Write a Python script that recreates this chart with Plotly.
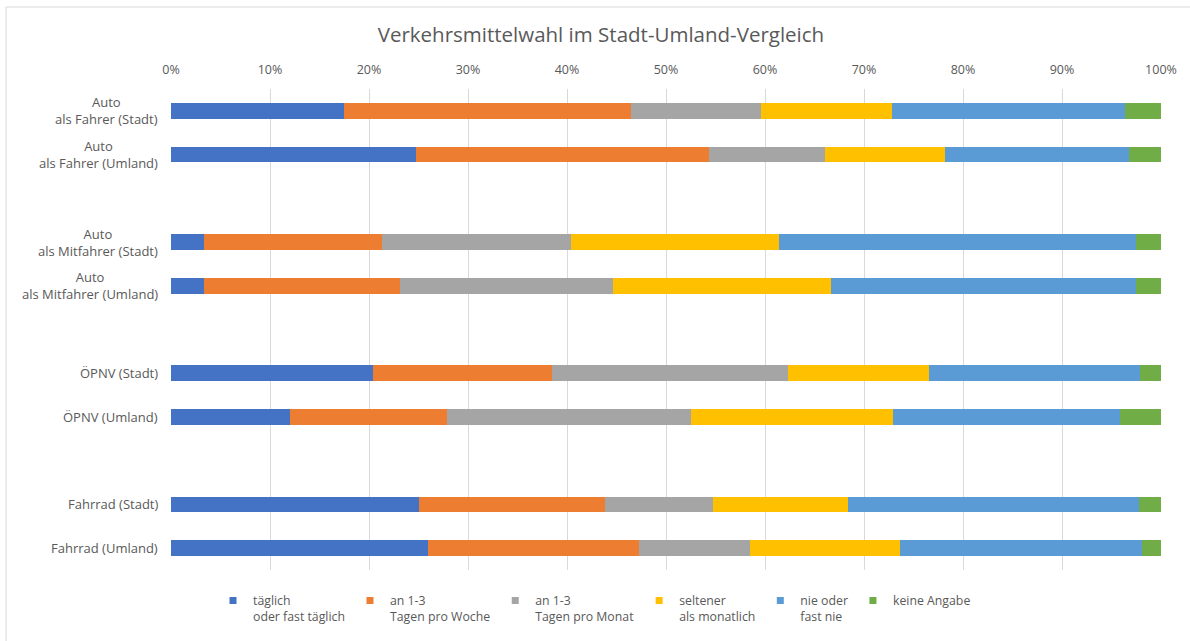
import plotly.graph_objects as go

categories = [
    "Auto<br>als Fahrer (Stadt)",
    "Auto<br>als Fahrer (Umland)",
    "Auto<br>als Mitfahrer (Stadt)",
    "Auto<br>als Mitfahrer (Umland)",
    "ÖPNV (Stadt)",
    "ÖPNV (Umland)",
    "Fahrrad (Stadt)",
    "Fahrrad (Umland)",
]

series_names = [
    "täglich<br>oder fast täglich",
    "an 1-3<br>Tagen pro Woche",
    "an 1-3<br>Tagen pro Monat",
    "seltener<br>als monatlich",
    "nie oder<br>fast nie",
    "keine Angabe",
]

taeglich = [17.5, 24.7, 3.3, 3.3, 20.4, 12.0, 25.0, 26.0]
woche = [29.0, 29.6, 18.0, 19.8, 18.1, 15.9, 18.8, 21.3]
monat = [13.1, 11.8, 19.1, 21.5, 23.8, 24.6, 10.9, 11.2]
seltener = [13.2, 12.1, 21.0, 22.1, 14.3, 20.4, 13.7, 15.1]
nie = [23.6, 18.6, 36.1, 30.8, 21.3, 23.0, 29.4, 24.5]
keine = [3.6, 3.2, 2.5, 2.5, 2.1, 4.1, 2.2, 1.9]

colors = ["#4472C4", "#ED7D31", "#A5A5A5", "#FFC000", "#5B9BD5", "#70AD47"]

x_ticks = [0, 0.1, 0.2, 0.3, 0.4, 0.5, 0.6, 0.7, 0.8, 0.9, 1.0]

# insert empty spacer categories between the groups of two
gap_after = {1, 3, 5}
slot_cats = []
slot_index = []
gap_n = 0
for i, c in enumerate(categories):
    slot_cats.append(c)
    slot_index.append(i)
    if i in gap_after:
        gap_n += 1
        slot_cats.append(" " * gap_n)
        slot_index.append(None)

all_series = [taeglich, woche, monat, seltener, nie, keine]
totals = [sum(s[i] for s in all_series) for i in range(len(categories))]

fig = go.Figure()
for name, vals, col in zip(series_names, all_series, colors):
    xs = [None if k is None else vals[k] / totals[k] for k in slot_index]
    fig.add_trace(go.Bar(
        y=slot_cats, x=xs, name=name, orientation="h",
        marker=dict(color=col, line=dict(width=0)),
        width=0.36, showlegend=False, legendgroup=name,
    ))
    # legend entry with a small square symbol
    fig.add_trace(go.Scatter(
        x=[None], y=[None], mode="markers", name=name, legendgroup=name,
        marker=dict(symbol="square", size=7, color=col),
        showlegend=True, hoverinfo="skip",
    ))

font_main = "Open Sans, Liberation Sans, sans-serif"
grey = "#595959"

# category labels as centered annotations
for c in categories:
    fig.add_annotation(
        x=0, xref="paper", y=c, yref="y", text=c, showarrow=False,
        xanchor="right", align="center", xshift=-11,
        font=dict(family=font_main, size=13, color=grey),
    )

L, R, T, B = 171, 28.5, 89, 71
W, H = 1190, 641
pw, ph = W - L - R, H - T - B

fig.add_shape(
    type="rect", xref="paper", yref="paper",
    x0=(6 - L) / pw, x1=(1200 - L) / pw,
    y0=((H - B) - 660) / ph, y1=((H - B) - 7) / ph,
    line=dict(color="#D9D9D9", width=1), fillcolor="rgba(0,0,0,0)", layer="below",
)

fig.update_layout(
    barmode="stack",
    width=W, height=H,
    margin=dict(l=L, r=R, t=T, b=B, pad=0, autoexpand=False),
    paper_bgcolor="white", plot_bgcolor="white",
    title=dict(text="Verkehrsmittelwahl im Stadt-Umland-Vergleich",
               x=0.505, xref="container", xanchor="center", y=1 - 35 / H, yanchor="middle",
               font=dict(family=font_main, size=20.5, color=grey)),
    font=dict(family=font_main, size=13, color=grey),
    legend=dict(orientation="h", xref="container", x=213 / W, xanchor="left",
                yref="container", y=1 - 586 / H, yanchor="top",
                valign="top", font=dict(family=font_main, size=12.3, color=grey),
                traceorder="normal", itemwidth=30, tracegroupgap=0,
                bgcolor="rgba(0,0,0,0)"),
    showlegend=True,
)
fig.update_xaxes(
    side="top", range=[0, 1], tickvals=x_ticks, tickformat=".0%",
    showgrid=True, gridcolor="#D9D9D9", gridwidth=1,
    zeroline=False, showline=False, ticks="outside", ticklen=9,
    tickcolor="rgba(0,0,0,0)",
    tickfont=dict(family=font_main, size=12.5, color=grey),
    fixedrange=True,
)
fig.update_yaxes(
    categoryorder="array", categoryarray=slot_cats,
    range=[len(slot_cats) - 0.5, -0.5], showticklabels=False, showgrid=False,
    zeroline=False, showline=False, ticks="", fixedrange=True,
)

fig.write_html("out.html", config={"displayModeBar": False},
               post_script="document.body.style.margin='0';")
